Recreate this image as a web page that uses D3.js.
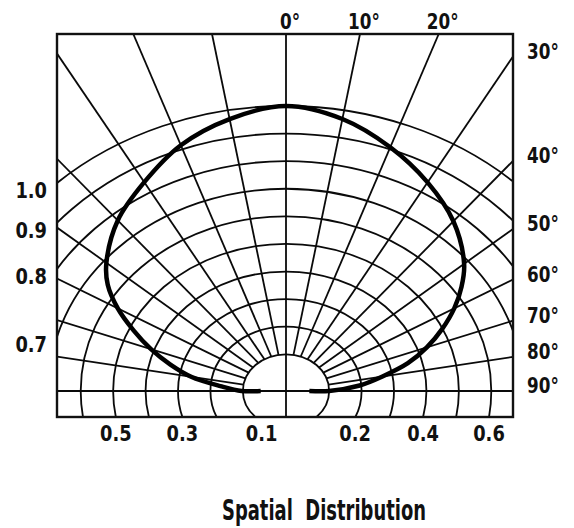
<!DOCTYPE html>
<html>
<head>
<meta charset="utf-8">
<script src="https://cdn.jsdelivr.net/npm/d3@7"></script>
<style>
  body { margin: 0; background: #fff; }
  text { font-family: "DejaVu Sans", sans-serif; font-weight: bold; fill: #111; }
</style>
</head>
<body>
<svg id="chart" width="574" height="528"></svg>
<script>
// angles measured from the axis (degrees), relative intensity on each side
var angles = [0, 10, 20, 30, 40, 50, 55, 60, 65, 70, 75, 80, 85, 90];
var rightIntensity = [1.0, 0.968, 0.907, 0.84, 0.77, 0.684, 0.628, 0.566, 0.498, 0.429, 0.356, 0.269, 0.195, 0.100];
var leftIntensity = [1.0, 0.968, 0.915, 0.841, 0.774, 0.69, 0.638, 0.566, 0.485, 0.41, 0.336, 0.264, 0.17, 0.104];
// the curve ends with a short flat stroke on the 90 deg line
var rightTail = 0.039;
var leftTail = 0.045;

var gridRadii = [0.1, 0.2, 0.3, 0.4, 0.5, 0.6, 0.7, 0.8, 0.9, 1.0];
var gridAngles = [-80, -70, -60, -50, -40, -30, -20, -10, 10, 20, 30, 40, 50, 60, 70, 80];
var topLabels = [0, 10, 20];
var rightLabels = [30, 40, 50, 60, 70, 80, 90];
var leftLabels = [1.0, 0.9, 0.8, 0.7];
var bottomLeftLabels = [0.5, 0.3, 0.1];
var bottomRightLabels = [0.2, 0.4, 0.6];
var title = 'Spatial  Distribution';

var frame = {x0: 57, x1: 513, y0: 34, y1: 417};
var cx = 286, cy = 391;

var svg = d3.select('#chart');

// the grid is a squashed polar grid: horizontal and vertical units differ
var xScale = d3.scaleLinear().domain([-1, 1]).range([cx - 335, cx + 335]);
var yScale = d3.scaleLinear().domain([0, 1]).range([cy, cy - 285]);
var rScale = d3.scaleLinear().domain([0, 1]).range([0.032, 1.0]);
var A = xScale(1) - xScale(0);
var B = yScale(0) - yScale(1);

function rad(d) { return d * Math.PI / 180; }

function project(deg, r) {
  var rs = rScale(r);
  return [xScale(rs * Math.sin(rad(deg))), yScale(rs * Math.cos(rad(deg)))];
}

function edgePoint(deg) {
  var dx = A * Math.sin(rad(deg)), dy = -B * Math.cos(rad(deg));
  var t = Infinity;
  if (dx > 1e-9) t = Math.min(t, (frame.x1 - cx) / dx);
  if (dx < -1e-9) t = Math.min(t, (frame.x0 - cx) / dx);
  if (dy < -1e-9) t = Math.min(t, (frame.y0 - cy) / dy);
  if (dy > 1e-9) t = Math.min(t, (frame.y1 - cy) / dy);
  return [cx + t * dx, cy + t * dy];
}

svg.append('clipPath').attr('id', 'clip')
  .append('rect')
  .attr('x', frame.x0).attr('y', frame.y0)
  .attr('width', frame.x1 - frame.x0).attr('height', frame.y1 - frame.y0);

var grid = svg.append('g')
  .attr('clip-path', 'url(#clip)')
  .attr('fill', 'none')
  .attr('stroke', '#0a0a0a')
  .attr('stroke-width', 1.8);

grid.selectAll('ellipse')
  .data(gridRadii)
  .enter().append('ellipse')
  .attr('cx', cx).attr('cy', cy)
  .attr('rx', function(d) { return rScale(d) * A; })
  .attr('ry', function(d) { return rScale(d) * B; });

grid.selectAll('line.spoke')
  .data(gridAngles)
  .enter().append('line')
  .attr('class', 'spoke')
  .attr('x1', function(d) { return project(d, 0.1)[0]; })
  .attr('y1', function(d) { return project(d, 0.1)[1]; })
  .attr('x2', function(d) { return edgePoint(d)[0]; })
  .attr('y2', function(d) { return edgePoint(d)[1]; });

grid.append('line')
  .attr('x1', cx).attr('x2', cx)
  .attr('y1', frame.y0).attr('y2', frame.y1);
grid.append('line')
  .attr('x1', frame.x0).attr('x2', frame.x1)
  .attr('y1', cy).attr('y2', cy);

// distribution curve
var points = [[-90, leftTail]];
for (var i = angles.length - 1; i >= 0; i--) points.push([-angles[i], leftIntensity[i]]);
for (var j = 1; j < angles.length; j++) points.push([angles[j], rightIntensity[j]]);
points.push([90, rightTail]);

var line = d3.line()
  .x(function(d) { return project(d[0], d[1])[0]; })
  .y(function(d) { return project(d[0], d[1])[1]; })
  .curve(d3.curveCatmullRom.alpha(0.5));

svg.append('path')
  .datum(points)
  .attr('d', line)
  .attr('fill', 'none')
  .attr('stroke', '#000')
  .attr('stroke-width', 4.5)
  .attr('stroke-linejoin', 'round');

svg.append('rect')
  .attr('x', frame.x0).attr('y', frame.y0)
  .attr('width', frame.x1 - frame.x0).attr('height', frame.y1 - frame.y0)
  .attr('fill', 'none')
  .attr('stroke', '#111')
  .attr('stroke-width', 2.4);

// labels
function squeeze(sel, k) {
  sel.each(function() {
    var w = this.getComputedTextLength();
    d3.select(this).attr('textLength', w * k).attr('lengthAdjust', 'spacingAndGlyphs');
  });
}

var labels = svg.append('g').attr('font-size', 21);

labels.selectAll('text.top')
  .data(topLabels)
  .enter().append('text')
  .attr('class', 'top')
  .attr('x', function(d) { return edgePoint(d)[0] + 4; })
  .attr('y', frame.y0 - 5)
  .attr('text-anchor', 'middle')
  .text(function(d) { return d + '°'; })
  .call(squeeze, 0.8);

labels.selectAll('text.right')
  .data(rightLabels)
  .enter().append('text')
  .attr('class', 'right')
  .attr('x', frame.x1 + 14)
  .attr('y', function(d) { return edgePoint(d)[1] + 2; })
  .text(function(d) { return d + '°'; })
  .call(squeeze, 0.8);

function leftCross(v) {
  var rs = rScale(v);
  var u = (frame.x0 - cx) / (rs * A);
  return cy - rs * B * Math.sqrt(1 - u * u);
}

labels.selectAll('text.left')
  .data(leftLabels)
  .enter().append('text')
  .attr('class', 'left')
  .attr('x', frame.x0 - 10)
  .attr('y', function(d) { return leftCross(d) + 15; })
  .attr('text-anchor', 'end')
  .text(function(d) { return d.toFixed(1); })
  .call(squeeze, 0.85);

function bottomCross(v, side) {
  var rs = rScale(v);
  var w = (frame.y1 - cy) / (rs * B);
  return cx + side * rs * A * Math.sqrt(1 - w * w);
}

labels.selectAll('text.bl')
  .data(bottomLeftLabels)
  .enter().append('text')
  .attr('class', 'bl')
  .attr('x', function(d) { return bottomCross(d, -1) + (d === 0.1 ? 6 : 0); })
  .attr('y', frame.y1 + 24)
  .attr('text-anchor', 'middle')
  .text(function(d) { return d.toFixed(1); })
  .call(squeeze, 0.85);

labels.selectAll('text.br')
  .data(bottomRightLabels)
  .enter().append('text')
  .attr('class', 'br')
  .attr('x', function(d) { return bottomCross(d, 1); })
  .attr('y', frame.y1 + 24)
  .attr('text-anchor', 'middle')
  .text(function(d) { return d.toFixed(1); })
  .call(squeeze, 0.85);

svg.append('text')
  .attr('x', 222)
  .attr('y', 520)
  .attr('font-size', 28)
  .attr('textLength', 204)
  .attr('lengthAdjust', 'spacingAndGlyphs')
  .style('white-space', 'pre')
  .text(title);
</script>
</body>
</html>
